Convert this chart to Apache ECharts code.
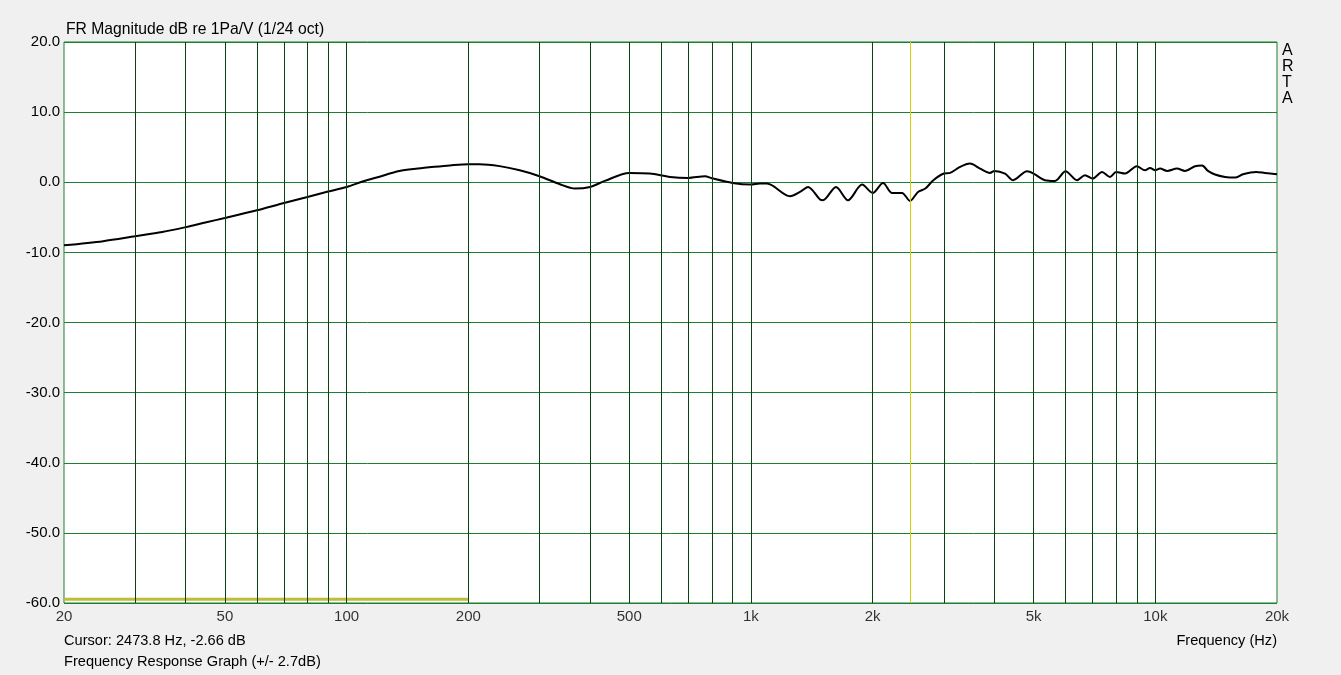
<!DOCTYPE html>
<html>
<head>
<meta charset="utf-8">
<script src="https://cdn.jsdelivr.net/npm/echarts@6/dist/echarts.min.js"></script>
<style>
html,body{margin:0;padding:0;background:#f0f0f0;}
#c{width:1341px;height:675px;}
</style>
</head>
<body>
<div id="c"></div>
<script>
// Frequency response data (Hz, dB)
const freqs = [20,25,30,35,40,45,50,60,70,80,90,100,110,120,135,150,165,180,200,213,239,268,300,337,367,400,435,500,562,631,700,770,800,900,1000,1053,1096,1249,1322,1384,1482,1507,1623,1738,1883,2000,2122,2234,2364,2474,2589,2700,2826,3000,3107,3290,3481,3687,3903,4000,4250,4449,4817,5000,5336,5650,6000,6404,6702,7000,7384,7727,8000,8419,9000,9432,9706,10000,10275,10700,11316,11844,12540,13050,13500,14050,14870,15750,16480,17750,18670,20000];
const magDb = [-9.0,-8.4,-7.7,-7.1,-6.4,-5.7,-5.1,-4.0,-2.95,-2.1,-1.33,-0.67,0.14,0.76,1.6,1.95,2.2,2.4,2.57,2.57,2.3,1.7,0.86,-0.29,-0.9,-0.67,0.19,1.33,1.24,0.76,0.62,0.86,0.57,-0.1,-0.33,-0.19,-0.19,-2.0,-1.38,-0.67,-2.47,-2.57,-0.67,-2.57,-0.33,-1.52,-0.1,-1.52,-1.52,-2.66,-1.38,-0.9,0.29,1.24,1.33,2.19,2.66,1.95,1.33,1.62,1.24,0.29,1.57,1.24,0.29,0.19,1.57,0.29,1.0,0.52,1.47,0.76,1.47,1.24,2.28,1.71,2.04,1.71,1.95,1.62,1.95,1.62,2.28,2.38,1.62,1.1,0.76,0.67,1.14,1.47,1.33,1.14];
const tickFreqs = [20,50,100,200,500,1000,2000,5000,10000,20000];
const tickLabels = ['20','50','100','200','500','1k','2k','5k','10k','20k'];
const gridFreqs = [30,40,50,60,70,80,90,100,200,300,400,500,600,700,800,900,1000,2000,3000,4000,5000,6000,7000,8000,9000,10000];
const cursorFreq = 2473.8;
const cursorDb = -2.66;
const markerRange = [20,200];
const markerLevel = -59.45;

const FONT = '"Liberation Sans", Arial, sans-serif';
const chart = echarts.init(document.getElementById('c'));
chart.setOption({
  animation:false,
  backgroundColor:'#f0f0f0',
  grid:{left:64,right:64,top:42,bottom:72,show:true,backgroundColor:'#ffffff',borderColor:'#1f7f30',borderWidth:1},
  xAxis:{type:'log',logBase:10,min:20,max:20000,
    axisLine:{show:false},axisTick:{show:false},axisLabel:{show:false},splitLine:{show:false},minorSplitLine:{show:false}},
  yAxis:{type:'value',min:-60,max:20,interval:10,
    axisLine:{show:false},axisTick:{show:false},
    axisLabel:{color:'#000',fontFamily:FONT,fontSize:15,margin:4,formatter:v=>v.toFixed(1)},
    splitLine:{show:true,lineStyle:{color:'#1f7f30',width:1}}},
  series:[
    {type:'scatter',z:1,silent:true,symbolSize:1,itemStyle:{color:'rgba(0,0,0,0)'},
     data:tickFreqs.map(f=>[f,-60]),
     label:{show:true,position:'bottom',distance:6,color:'#000',fontFamily:FONT,fontSize:15,
       formatter:p=>tickLabels[p.dataIndex]},
     markLine:{silent:true,symbol:['none','none'],label:{show:false},
       lineStyle:{color:'#0b4015',width:1,type:'solid'},
       data:gridFreqs.map(f=>({xAxis:f}))}},
    {type:'line',z:2,silent:true,symbol:'none',data:[[markerRange[0],markerLevel],[markerRange[1],markerLevel]],
     lineStyle:{color:'#bdbd3a',width:3}},
    {type:'line',z:2,silent:true,symbol:'none',data:[],
     markLine:{silent:true,symbol:['none','none'],label:{show:false},
       lineStyle:{color:'#d2d200',width:1,type:'solid'},data:[{xAxis:cursorFreq}]}},
    {type:'line',z:3,silent:true,symbol:'none',smooth:0.3,
     data:freqs.map((f,i)=>[f,magDb[i]]),
     lineStyle:{color:'#000',width:2}}
  ],
  graphic:[
    {type:'text',left:66,top:22,style:{text:'FR Magnitude dB re 1Pa/V (1/24 oct)',fill:'#000',font:'15.7px '+FONT}},
    {type:'text',left:1282,top:43,style:{text:'A\nR\nT\nA',fill:'#000',font:'16px '+FONT,lineHeight:16}},
    {type:'text',left:64,top:633,style:{text:'Cursor: '+cursorFreq.toFixed(1)+' Hz, '+cursorDb.toFixed(2)+' dB',fill:'#000',font:'14.6px '+FONT}},
    {type:'text',left:64,top:654,style:{text:'Frequency Response Graph (+/- 2.7dB)',fill:'#000',font:'14.6px '+FONT}},
    {type:'text',right:64,top:633,style:{text:'Frequency (Hz)',fill:'#000',font:'14.6px '+FONT}}
  ]
});
</script>
</body>
</html>
